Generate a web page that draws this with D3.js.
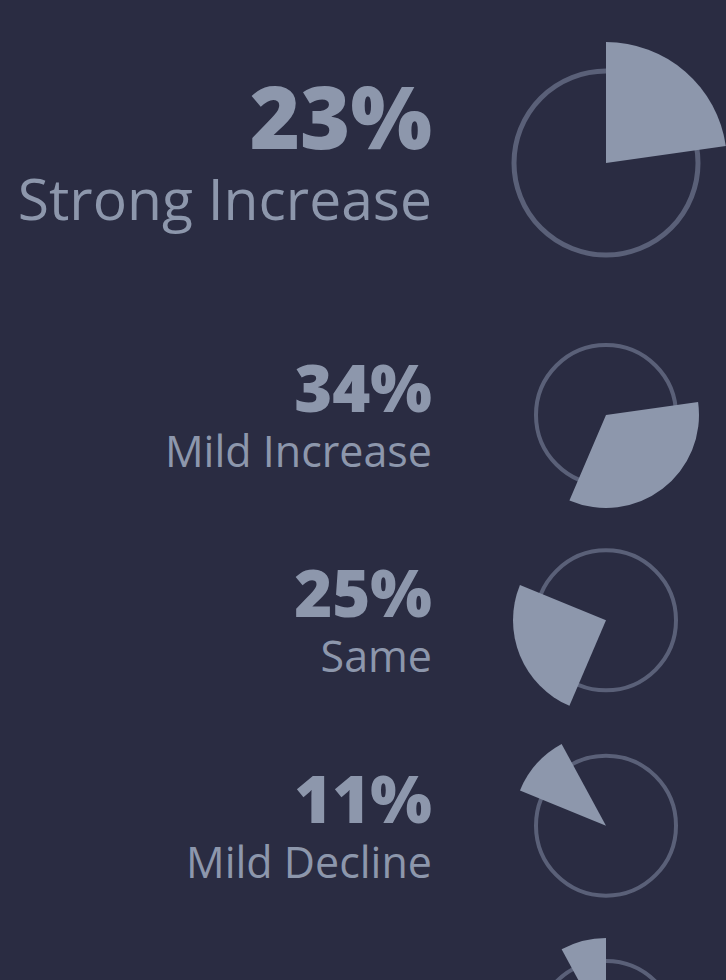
<!DOCTYPE html>
<html>
<head>
<meta charset="utf-8">
<script src="https://cdn.jsdelivr.net/npm/d3@7/dist/d3.min.js"></script>
<style>
  html, body { margin: 0; padding: 0; background: #2a2c42; overflow: hidden; }
  svg { display: block; }
</style>
</head>
<body>
<svg id="chart" width="726" height="980"></svg>
<script>
// ---- data ----
const categories = ["Strong Increase", "Mild Increase", "Same", "Mild Decline", "Strong Decline"];
const values = [23, 34, 25, 11, 8];
const valueLabels = ["23%", "34%", "25%", "11%", "8%"];

// ---- styles ----
const bg = "#2a2c42";
const fillColor = "#8d97ac";
const ringColor = "#5a6078";
const width = 726, height = 980;

const svg = d3.select("#chart");
svg.append("rect").attr("width", width).attr("height", height).attr("fill", bg);

const pie = d3.pie().sort(null).value(d => d);
const arcsData = pie(values);

// row layout
const y = d3.scalePoint().domain(d3.range(1, categories.length)).range([415, 1031]);
const cyOf = i => i === 0 ? 163 : y(i);
const big = i => i === 0;
const style = i => big(i)
  ? { r: 92, R: 121, sw: 5, pct: 86, lab: 57, pctDy: -14, labDy: 57 }
  : { r: 70, R: 93, sw: 4, pct: 65, lab: 43, pctDy: -3, labDy: 52 };

const cx = 606, textX = 432;

const rows = svg.selectAll("g.row")
  .data(categories)
  .enter().append("g")
  .attr("class", "row")
  .attr("transform", (d, i) => `translate(0,${cyOf(i)})`);

rows.append("circle")
  .attr("cx", cx).attr("cy", 0)
  .attr("r", (d, i) => style(i).r)
  .attr("fill", "none")
  .attr("stroke", ringColor)
  .attr("stroke-width", (d, i) => style(i).sw);

rows.append("path")
  .attr("transform", `translate(${cx},0)`)
  .attr("fill", fillColor)
  .attr("d", (d, i) => d3.arc().innerRadius(0).outerRadius(style(i).R)(arcsData[i]));

rows.append("text")
  .attr("x", textX)
  .attr("y", (d, i) => style(i).pctDy)
  .attr("text-anchor", "end")
  .attr("fill", fillColor)
  .style("font-family", "'Open Sans', sans-serif")
  .style("font-weight", 800)
  .style("font-size", (d, i) => style(i).pct + "px")
  .text((d, i) => valueLabels[i]);

rows.append("text")
  .attr("x", textX)
  .attr("y", (d, i) => style(i).labDy)
  .attr("text-anchor", "end")
  .attr("fill", fillColor)
  .style("font-family", "'Open Sans', sans-serif")
  .style("font-weight", 400)
  .style("font-size", (d, i) => style(i).lab + "px")
  .text(d => d);
</script>
</body>
</html>
